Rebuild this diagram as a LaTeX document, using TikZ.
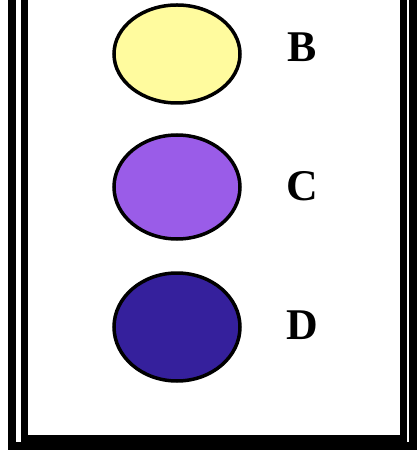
\documentclass[tikz,border=0pt]{standalone}
\usepackage{fontspec}
\setmainfont{Liberation Serif}
\usetikzlibrary{shapes.geometric}

\begin{document}
\begin{tikzpicture}[x=1bp, y=-1bp]

		\definecolor{bcol}{HTML}{FFFB9E}
		\definecolor{ccol}{HTML}{9A5CE8}
		\definecolor{dcol}{HTML}{35209C}

		\tikzset{
			blob/.style={ellipse, draw=black, line width=3.5bp, minimum width=126bp, minimum height=104bp, inner sep=0pt},
			letter/.style={font=\fontsize{44}{44}\selectfont\bfseries}
		}

		\clip (0,0) rectangle (418,450);

		% Double frame, open at the top
		\draw[line width=8bp] (12,-10) |- (413,446) -- (413,-10);
		\draw[line width=7bp] (24,-10) |- (403,438) -- (403,-10);

		% Coloured spots
		\node[blob, fill=bcol, minimum height=98bp] (spotB) at (177, 54) {};
		\node[blob, fill=ccol] (spotC) at (177, 187) {};
		\node[blob, fill=dcol, minimum height=108bp] (spotD) at (177, 327) {};

		% Letters
		\node[letter] (labB) at (302, 47) {B};
		\node[letter] (labC) at (302, 186) {C};
		\node[letter] (labD) at (302, 325) {D};

	\end{tikzpicture}
\end{document}
